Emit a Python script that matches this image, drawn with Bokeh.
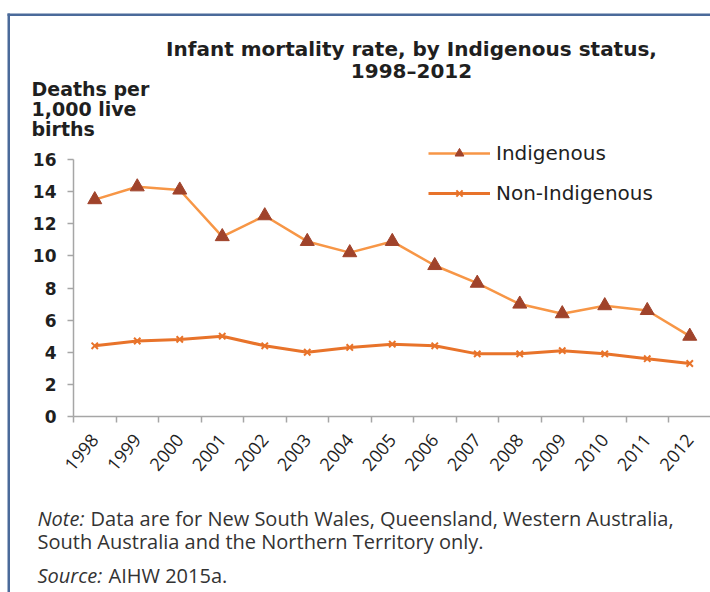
import math
from bokeh.plotting import figure
from bokeh.models import (Range1d, FixedTicker, Label, Legend, LegendItem, BoxAnnotation)
from bokeh.embed import file_html
from bokeh.resources import INLINE

# ---------------- data ----------------
years = [1998, 1999, 2000, 2001, 2002, 2003, 2004, 2005, 2006, 2007, 2008, 2009, 2010, 2011, 2012]
indigenous = [13.5, 14.3, 14.1, 11.2, 12.5, 10.9, 10.2, 10.9, 9.4, 8.3, 7.0, 6.4, 6.9, 6.6, 5.0]
non_indigenous = [4.4, 4.7, 4.8, 5.0, 4.4, 4.0, 4.3, 4.5, 4.4, 3.9, 3.9, 4.1, 3.9, 3.6, 3.3]
y_ticks = [0, 2, 4, 6, 8, 10, 12, 14, 16]
series_names = ["Indigenous", "Non-Indigenous"]
title_lines = ["Infant mortality rate, by Indigenous status,", "1998\u20132012"]
ylabel_lines = ["Deaths per", "1,000 live", "births"]

# ---------------- geometry (canvas pixels) ----------------
W, H = 710, 592
AXIS_X = 73              # pixel x of the y axis
Y0 = 416                 # pixel y of value 0
Y16 = 159                # pixel y of top tick
STEP = 42.5              # px per year
X_START = years[0] - 0.5
Y_MAX = y_ticks[-1]
DY = (Y0 - Y16) / Y_MAX

XR0 = X_START - AXIS_X / STEP
XR1 = XR0 + W / STEP
YR0 = (Y0 - H) / DY
YR1 = Y0 / DY


def dx(px):
    return XR0 + px / STEP


def dy(py):
    return (Y0 - py) / DY


p = figure(width=W, height=H, output_backend="svg", toolbar_location=None,
           x_range=Range1d(XR0, XR1), y_range=Range1d(YR0, YR1),
           min_border=0, title=None)
p.outline_line_color = None
p.grid.visible = False
p.background_fill_color = "white"
p.border_fill_color = "white"

AXIS_COLOR = "#A6A6A6"
TEXT = "#1F1F1F"
# y axis
p.yaxis.fixed_location = X_START
p.yaxis.bounds = (0, Y_MAX)
p.yaxis.ticker = FixedTicker(ticks=y_ticks)
p.yaxis.axis_line_color = AXIS_COLOR
p.yaxis.axis_line_width = 1.5
p.yaxis.major_tick_line_color = AXIS_COLOR
p.yaxis.major_tick_line_width = 1.5
p.yaxis.major_tick_out = 6
p.yaxis.major_tick_in = 0
p.yaxis.minor_tick_line_color = None
p.yaxis.major_label_standoff = 11
p.yaxis.major_label_text_font = "DejaVu Sans"
p.yaxis.major_label_text_font_style = "bold"
p.yaxis.major_label_text_font_size = "17px"
p.yaxis.major_label_text_color = TEXT

# x axis: labels at years, ticks at category boundaries
boundaries = [y - 0.5 for y in years] + [years[-1] + 0.5]
p.xaxis.fixed_location = 0
p.xaxis.bounds = (X_START, XR1 + 1)
p.xaxis.ticker = FixedTicker(ticks=years, minor_ticks=boundaries)
p.xaxis.major_label_overrides = {y: str(y) for y in years}
p.xaxis.axis_line_color = AXIS_COLOR
p.xaxis.axis_line_width = 1.5
p.xaxis.major_tick_line_color = None
p.xaxis.minor_tick_line_color = AXIS_COLOR
p.xaxis.minor_tick_line_width = 1.5
p.xaxis.minor_tick_out = 6
p.xaxis.minor_tick_in = 0
p.xaxis.major_label_orientation = math.radians(50)
p.xaxis.major_label_standoff = 14
p.xaxis.major_label_text_font = "Open Sans"
p.xaxis.major_label_text_font_size = "18px"
p.xaxis.major_label_text_color = TEXT

# ---------------- series ----------------
IND_LINE = "#F79646"
IND_MARK = "#A0432B"
NON_LINE = "#E8732A"

l1 = p.line(years, indigenous, line_color=IND_LINE, line_width=2.5)
s1 = p.scatter(years, indigenous, marker="triangle", size=14,
               fill_color=IND_MARK, line_color=IND_MARK)
l2 = p.line(years, non_indigenous, line_color=NON_LINE, line_width=3)
s2 = p.scatter(years, non_indigenous, marker="x", size=9,
               line_color=NON_LINE, line_width=2)

legend = Legend(items=[LegendItem(label=series_names[0], renderers=[l1, s1]),
                       LegendItem(label=series_names[1], renderers=[l2, s2])],
                location=(428, H - 205), orientation="vertical",
                glyph_width=62, glyph_height=22, spacing=16, padding=0, margin=0,
                label_standoff=6, label_text_font="DejaVu Sans",
                label_text_font_size="20px", label_text_color=TEXT,
                border_line_alpha=0, background_fill_alpha=0)
p.add_layout(legend, "center")

# ---------------- texts ----------------
HEAD_FONT = "DejaVu Sans"
for i, t in enumerate(title_lines):
    p.add_layout(Label(x=dx(411), y=dy(48 + 22 * i), text=t, text_align="center",
                       text_baseline="middle", text_font=HEAD_FONT,
                       text_font_style="bold", text_font_size="20px",
                       text_color=TEXT))
for i, t in enumerate(ylabel_lines):
    p.add_layout(Label(x=dx(31), y=dy(88 + 20 * i), text=t, text_align="left",
                       text_baseline="middle", text_font=HEAD_FONT,
                       text_font_style="bold", text_font_size="19px",
                       text_color=TEXT))

NOTE_FONT = "Open Sans"
notes = [
    (37, 518, "Note:", "italic"),
    (90, 518, "Data are for New South Wales, Queensland, Western Australia,", "normal"),
    (37, 541, "South Australia and the Northern Territory only.", "normal"),
    (37, 575, "Source:", "italic"),
    (108, 575, "AIHW 2015a.", "normal"),
]
for x, y, t, style in notes:
    p.add_layout(Label(x=dx(x), y=dy(y), text=t, text_align="left",
                       text_baseline="middle", text_font=NOTE_FONT,
                       text_font_style=style, text_font_size="20px",
                       text_color="#333333"))

# ---------------- frame border (top and left) ----------------
BORDER = "#4A6A9A"
p.add_layout(BoxAnnotation(left=dx(7), right=dx(720), top=dy(13), bottom=dy(15.5),
                           fill_color=BORDER, fill_alpha=1, line_alpha=0))
p.add_layout(BoxAnnotation(left=dx(7), right=dx(9.5), top=dy(13), bottom=dy(600),
                           fill_color=BORDER, fill_alpha=1, line_alpha=0))

open("out.html", "w").write(file_html(p, INLINE))
